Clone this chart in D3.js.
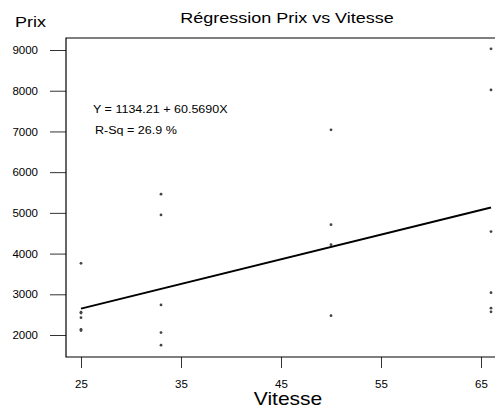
<!DOCTYPE html>
<html>
<head>
<meta charset="utf-8">
<script src="https://cdn.jsdelivr.net/npm/d3@7"></script>
<style>
  body { margin:0; background:#fff; }
  text { font-family: Arial, "Liberation Sans", sans-serif; fill:#000; }
</style>
</head>
<body>
<div id="canvas"></div>
<script>
// data
var vitesse = [25,25,25,25,25,25, 33,33,33,33,33, 50,50,50,50, 66,66,66,66,66,66];
var prix    = [3760,2560,2540,2425,2140,2110, 5460,4950,2740,2060,1750, 7040,4710,4220,2475, 9030,8020,4540,3040,2660,2570];
var xTicks = [25,35,45,55,65];
var yTicks = [2000,3000,4000,5000,6000,7000,8000,9000];
var coef = {a:1134.21, b:60.5690};
var equation = ['Y = 1134.21 + 60.5690X', 'R-Sq = 26.9 %'];

var W = 495, H = 408;
var m = {t:38,b:51,l:66,r:0};

var svg = d3.select('#canvas').append('svg')
    .attr('width',W).attr('height',H);

var x = d3.scaleLinear().domain([23.5,66.4]).range([m.l,W-m.r]);
var y = d3.scaleLinear().domain([1460,9295]).range([H-m.b,m.t]);

// axes
var axisY = d3.axisLeft(y).tickValues(yTicks).tickSize(16).tickPadding(12)
    .tickFormat(d3.format('d'));
var gy = svg.append('g').attr('transform','translate(' + m.l + ',0)').call(axisY);
gy.select('.domain').remove();
gy.selectAll('line').attr('stroke','#333');
gy.selectAll('text').style('font-size','11.5px').attr('fill','#000');

var axisX = d3.axisBottom(x).tickValues(xTicks).tickSize(11).tickPadding(12);
var gx = svg.append('g').attr('transform','translate(0,' + (H-m.b) + ')').call(axisX);
gx.select('.domain').remove();
gx.selectAll('line').attr('stroke','#333');
gx.selectAll('text').style('font-size','11.5px').attr('fill','#000');

// frame: left, top, bottom
svg.append('path')
    .attr('d','M' + W + ',' + m.t + 'H' + m.l + 'V' + (H-m.b) + 'H' + W)
    .attr('fill','none').attr('stroke','#000').attr('stroke-width',1.2);

// regression line
var xr = d3.extent(vitesse);
svg.append('path')
    .datum(xr)
    .attr('d', d3.line()
        .x(function(d){ return x(d); })
        .y(function(d){ return y(coef.a + coef.b*d); }))
    .attr('fill','none').attr('stroke','#000').attr('stroke-width',2);

// points
svg.selectAll('.pt')
    .data(vitesse.map(function(v,i){ return {v:v,p:prix[i]}; }))
    .enter().append('circle')
    .attr('class','pt')
    .attr('cx',function(d){ return x(d.v); })
    .attr('cy',function(d){ return y(d.p); })
    .attr('r',1.4)
    .attr('fill','#444');

// texts
function label(str,tx,ty,size,sx,anchor){
    svg.append('text')
        .attr('transform','translate(' + tx + ',' + ty + ') scale(' + sx + ',1)')
        .attr('text-anchor',anchor || 'start')
        .style('font-size',size + 'px')
        .text(str);
}
label('Régression Prix vs Vitesse',287,23,15,1.2,'middle');
label('Prix',15,27,15,1.2);
label('Vitesse',288,405,17.5,1.2,'middle');
label(equation[0],93,113,11.5,1.09);
label(equation[1],95,134,11.5,1.09);
</script>
</body>
</html>
